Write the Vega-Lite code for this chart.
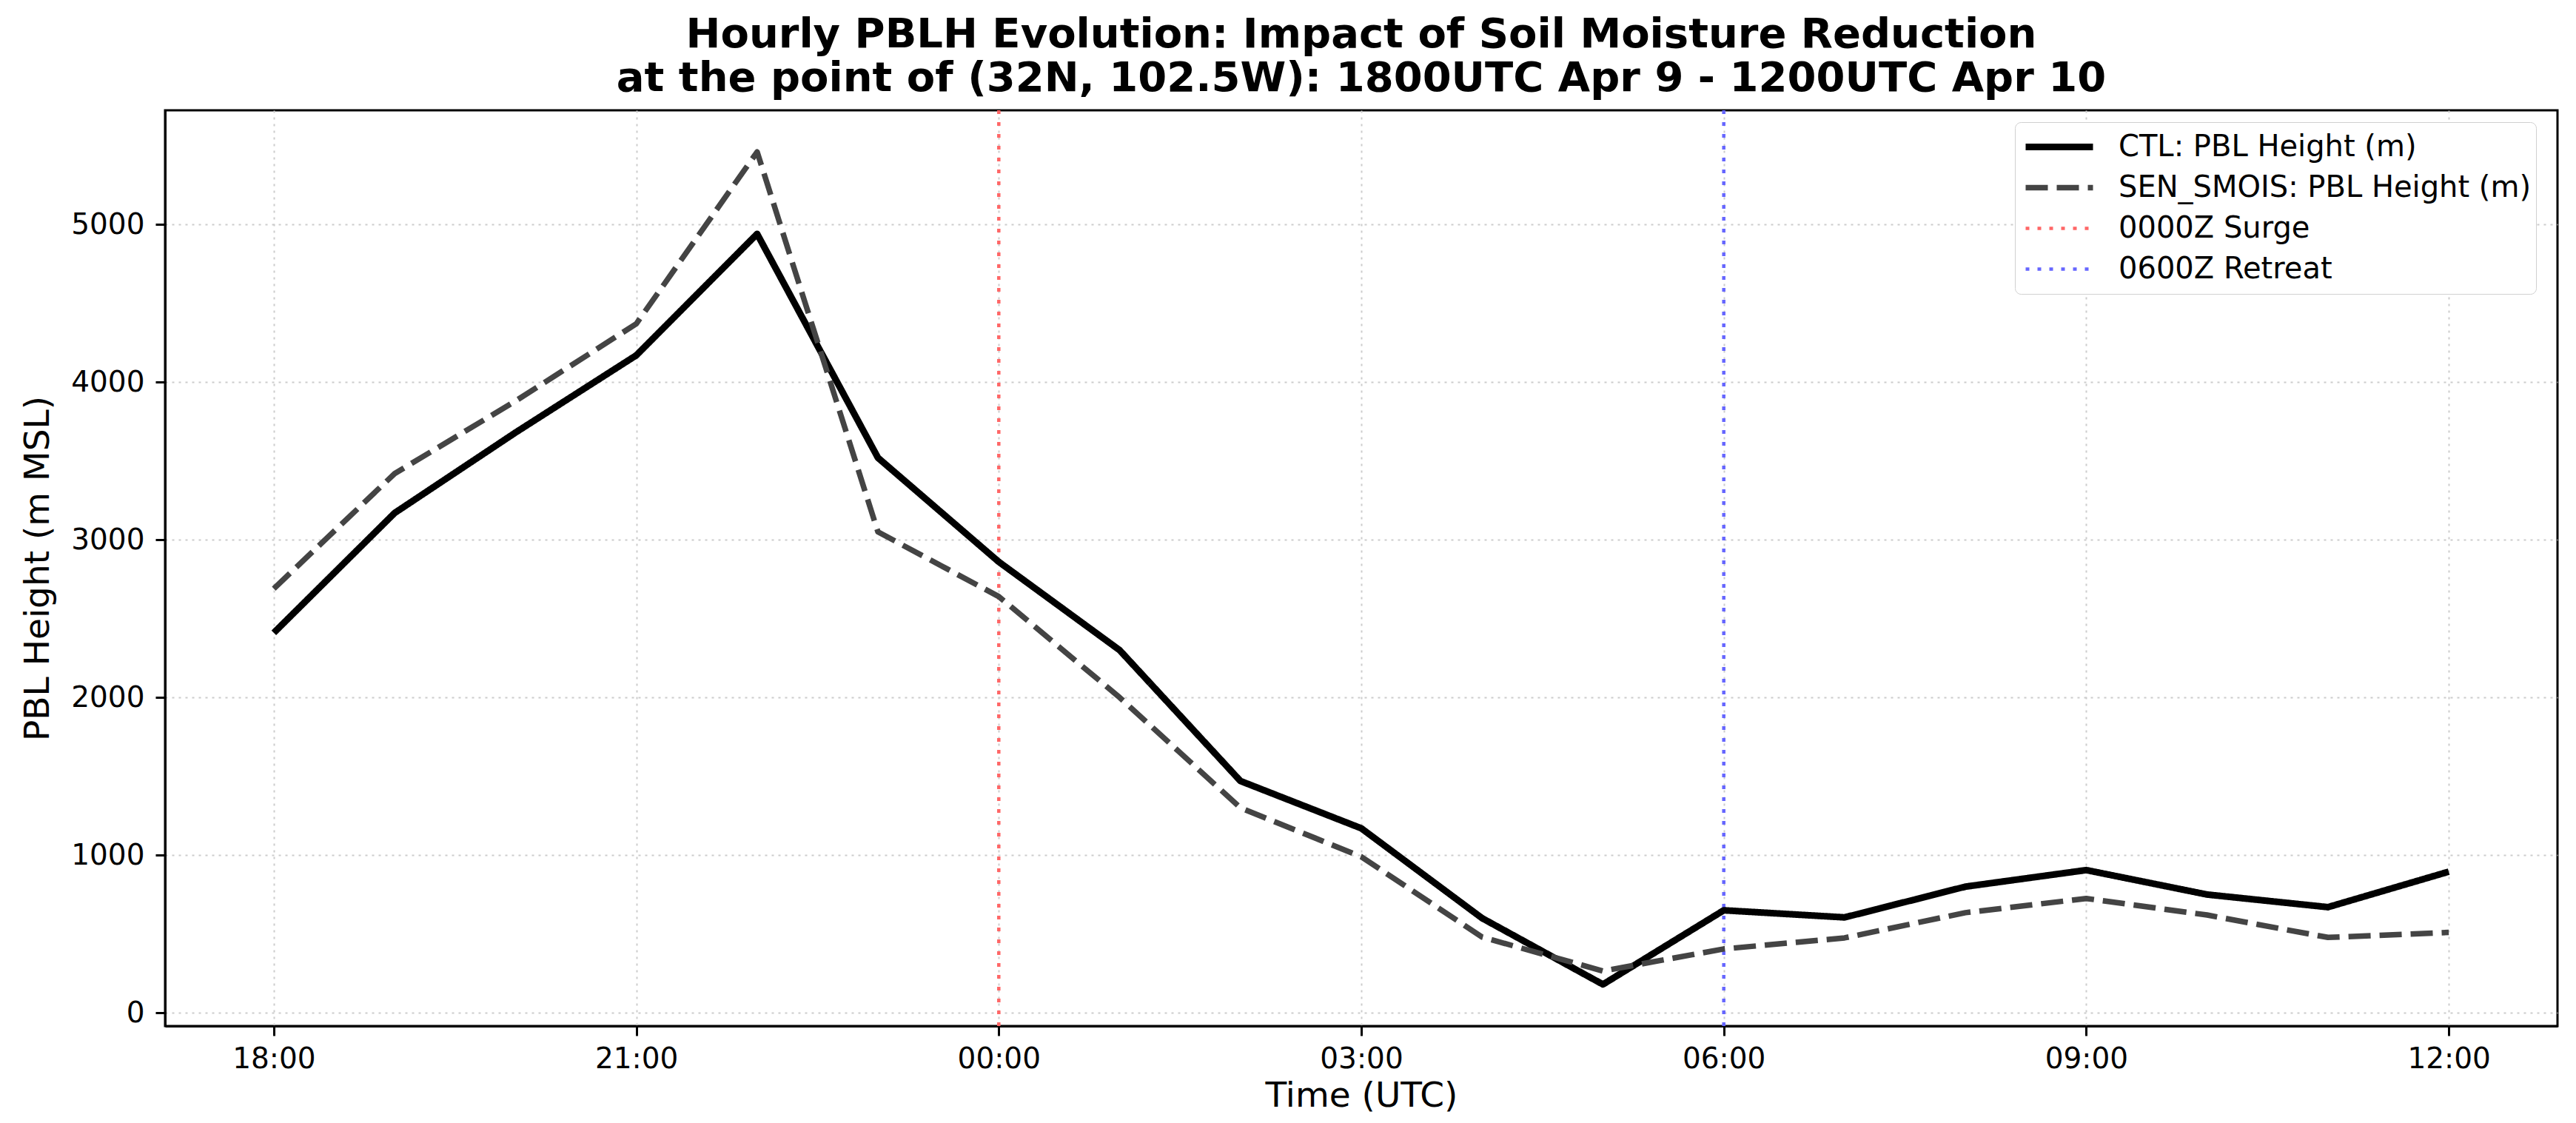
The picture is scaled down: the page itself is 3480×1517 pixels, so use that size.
{
  "$schema": "https://vega.github.io/schema/vega-lite/v6.json",
  "width": 3232,
  "height": 1237,
  "autosize": {"type": "none"},
  "padding": {"left": 223, "top": 149, "right": 25, "bottom": 131},
  "background": "white",
  "title": {
    "text": [
      "Hourly PBLH Evolution: Impact of Soil Moisture Reduction",
      "at the point of (32N, 102.5W): 1800UTC Apr 9 - 1200UTC Apr 10"
    ],
    "fontSize": 56,
    "fontWeight": "bold",
    "font": "DejaVu Sans",
    "lineHeight": 59,
    "anchor": "middle",
    "frame": "group",
    "offset": 12,
    "color": "#000000"
  },
  "datasets": {
    "pblh": [
      {"time": "2025-04-09T18:00:00Z", "series": "CTL: PBL Height (m)", "pbl": 2410},
      {"time": "2025-04-09T19:00:00Z", "series": "CTL: PBL Height (m)", "pbl": 3170},
      {"time": "2025-04-09T20:00:00Z", "series": "CTL: PBL Height (m)", "pbl": 3680},
      {"time": "2025-04-09T21:00:00Z", "series": "CTL: PBL Height (m)", "pbl": 4170},
      {"time": "2025-04-09T22:00:00Z", "series": "CTL: PBL Height (m)", "pbl": 4940},
      {"time": "2025-04-09T23:00:00Z", "series": "CTL: PBL Height (m)", "pbl": 3520},
      {"time": "2025-04-10T00:00:00Z", "series": "CTL: PBL Height (m)", "pbl": 2860},
      {"time": "2025-04-10T01:00:00Z", "series": "CTL: PBL Height (m)", "pbl": 2300},
      {"time": "2025-04-10T02:00:00Z", "series": "CTL: PBL Height (m)", "pbl": 1470},
      {"time": "2025-04-10T03:00:00Z", "series": "CTL: PBL Height (m)", "pbl": 1170},
      {"time": "2025-04-10T04:00:00Z", "series": "CTL: PBL Height (m)", "pbl": 600},
      {"time": "2025-04-10T05:00:00Z", "series": "CTL: PBL Height (m)", "pbl": 180},
      {"time": "2025-04-10T06:00:00Z", "series": "CTL: PBL Height (m)", "pbl": 650},
      {"time": "2025-04-10T07:00:00Z", "series": "CTL: PBL Height (m)", "pbl": 605},
      {"time": "2025-04-10T08:00:00Z", "series": "CTL: PBL Height (m)", "pbl": 800},
      {"time": "2025-04-10T09:00:00Z", "series": "CTL: PBL Height (m)", "pbl": 905},
      {"time": "2025-04-10T10:00:00Z", "series": "CTL: PBL Height (m)", "pbl": 750},
      {"time": "2025-04-10T11:00:00Z", "series": "CTL: PBL Height (m)", "pbl": 670},
      {"time": "2025-04-10T12:00:00Z", "series": "CTL: PBL Height (m)", "pbl": 895},
      {"time": "2025-04-09T18:00:00Z", "series": "SEN_SMOIS: PBL Height (m)", "pbl": 2690},
      {"time": "2025-04-09T19:00:00Z", "series": "SEN_SMOIS: PBL Height (m)", "pbl": 3420},
      {"time": "2025-04-09T20:00:00Z", "series": "SEN_SMOIS: PBL Height (m)", "pbl": 3880},
      {"time": "2025-04-09T21:00:00Z", "series": "SEN_SMOIS: PBL Height (m)", "pbl": 4370},
      {"time": "2025-04-09T22:00:00Z", "series": "SEN_SMOIS: PBL Height (m)", "pbl": 5460},
      {"time": "2025-04-09T23:00:00Z", "series": "SEN_SMOIS: PBL Height (m)", "pbl": 3050},
      {"time": "2025-04-10T00:00:00Z", "series": "SEN_SMOIS: PBL Height (m)", "pbl": 2640},
      {"time": "2025-04-10T01:00:00Z", "series": "SEN_SMOIS: PBL Height (m)", "pbl": 2000},
      {"time": "2025-04-10T02:00:00Z", "series": "SEN_SMOIS: PBL Height (m)", "pbl": 1300},
      {"time": "2025-04-10T03:00:00Z", "series": "SEN_SMOIS: PBL Height (m)", "pbl": 990},
      {"time": "2025-04-10T04:00:00Z", "series": "SEN_SMOIS: PBL Height (m)", "pbl": 480},
      {"time": "2025-04-10T05:00:00Z", "series": "SEN_SMOIS: PBL Height (m)", "pbl": 265},
      {"time": "2025-04-10T06:00:00Z", "series": "SEN_SMOIS: PBL Height (m)", "pbl": 405},
      {"time": "2025-04-10T07:00:00Z", "series": "SEN_SMOIS: PBL Height (m)", "pbl": 475},
      {"time": "2025-04-10T08:00:00Z", "series": "SEN_SMOIS: PBL Height (m)", "pbl": 635},
      {"time": "2025-04-10T09:00:00Z", "series": "SEN_SMOIS: PBL Height (m)", "pbl": 725},
      {"time": "2025-04-10T10:00:00Z", "series": "SEN_SMOIS: PBL Height (m)", "pbl": 620},
      {"time": "2025-04-10T11:00:00Z", "series": "SEN_SMOIS: PBL Height (m)", "pbl": 478},
      {"time": "2025-04-10T12:00:00Z", "series": "SEN_SMOIS: PBL Height (m)", "pbl": 510}
    ],
    "events": [
      {"time": "2025-04-10T00:00:00Z", "series": "0000Z Surge"},
      {"time": "2025-04-10T06:00:00Z", "series": "0600Z Retreat"}
    ]
  },
  "encoding": {
    "x": {
      "field": "time",
      "type": "temporal",
      "title": "Time (UTC)",
      "scale": {
        "type": "utc",
        "nice": false,
        "domain": [
          {"year": 2025, "month": 4, "date": 9, "hours": 17, "minutes": 6, "utc": true},
          {"year": 2025, "month": 4, "date": 10, "hours": 12, "minutes": 54, "utc": true}
        ]
      },
      "axis": {
        "values": [
          {"year": 2025, "month": 4, "date": 9, "hours": 18, "utc": true},
          {"year": 2025, "month": 4, "date": 9, "hours": 21, "utc": true},
          {"year": 2025, "month": 4, "date": 10, "hours": 0, "utc": true},
          {"year": 2025, "month": 4, "date": 10, "hours": 3, "utc": true},
          {"year": 2025, "month": 4, "date": 10, "hours": 6, "utc": true},
          {"year": 2025, "month": 4, "date": 10, "hours": 9, "utc": true},
          {"year": 2025, "month": 4, "date": 10, "hours": 12, "utc": true}
        ],
        "labelExpr": "utcFormat(datum.value, '%H:%M')",
        "labelPadding": 12,
        "titlePadding": 7,
        "labelFlush": false,
        "labelOverlap": false
      }
    },
    "color": {
      "field": "series",
      "type": "nominal",
      "scale": {
        "domain": ["CTL: PBL Height (m)", "SEN_SMOIS: PBL Height (m)", "0000Z Surge", "0600Z Retreat"],
        "range": ["#000000", "#444444", "#ff6666", "#6666ff"]
      },
      "legend": {
        "title": null,
        "orient": "none",
        "legendX": 2499,
        "legendY": 16
      }
    },
    "strokeDash": {
      "field": "series",
      "type": "nominal",
      "scale": {
        "domain": ["CTL: PBL Height (m)", "SEN_SMOIS: PBL Height (m)", "0000Z Surge", "0600Z Retreat"],
        "range": [[1, 0], [30, 12], [5, 11], [5, 11]]
      },
      "legend": {
        "title": null,
        "orient": "none",
        "legendX": 2499,
        "legendY": 16
      }
    },
    "strokeWidth": {
      "field": "series",
      "type": "nominal",
      "scale": {
        "type": "ordinal",
        "domain": ["CTL: PBL Height (m)", "SEN_SMOIS: PBL Height (m)", "0000Z Surge", "0600Z Retreat"],
        "range": [9, 7.5, 4.5, 4.5]
      },
      "legend": {
        "title": null,
        "orient": "none",
        "legendX": 2499,
        "legendY": 16
      }
    }
  },
  "layer": [
    {
      "data": {"name": "events"},
      "mark": {"type": "rule"}
    },
    {
      "data": {"name": "pblh"},
      "mark": {"type": "line", "strokeJoin": "round", "strokeCap": "butt"},
      "encoding": {
        "y": {
          "field": "pbl",
          "type": "quantitative",
          "title": "PBL Height (m MSL)",
          "scale": {"domain": [-84, 5724], "nice": false, "zero": false},
          "axis": {
            "values": [0, 1000, 2000, 3000, 4000, 5000],
            "format": "d",
            "labelPadding": 15,
            "titlePadding": 20,
            "labelFlush": false
          }
        }
      }
    }
  ],
  "config": {
    "font": "DejaVu Sans",
    "view": {"stroke": "#000000", "strokeWidth": 3},
    "axis": {
      "labelFont": "DejaVu Sans",
      "titleFont": "DejaVu Sans",
      "labelFontSize": 39,
      "titleFontSize": 47,
      "titleFontWeight": "normal",
      "labelColor": "#000000",
      "titleColor": "#000000",
      "domainColor": "#000000",
      "domainWidth": 3,
      "tickColor": "#000000",
      "tickWidth": 3,
      "tickSize": 13,
      "grid": true,
      "gridColor": "#cccccc",
      "gridDash": [3, 6],
      "gridWidth": 2
    },
    "legend": {
      "labelFont": "DejaVu Sans",
      "labelFontSize": 40,
      "labelColor": "#000000",
      "symbolType": "stroke",
      "symbolSize": 8281,
      "clipHeight": 55,
      "labelOffset": 30,
      "symbolOffset": 4,
      "padding": 6,
      "rowPadding": 0,
      "strokeColor": "#d0d0d0",
      "fillColor": "#ffffff",
      "cornerRadius": 8,
      "labelLimit": 0
    }
  }
}
